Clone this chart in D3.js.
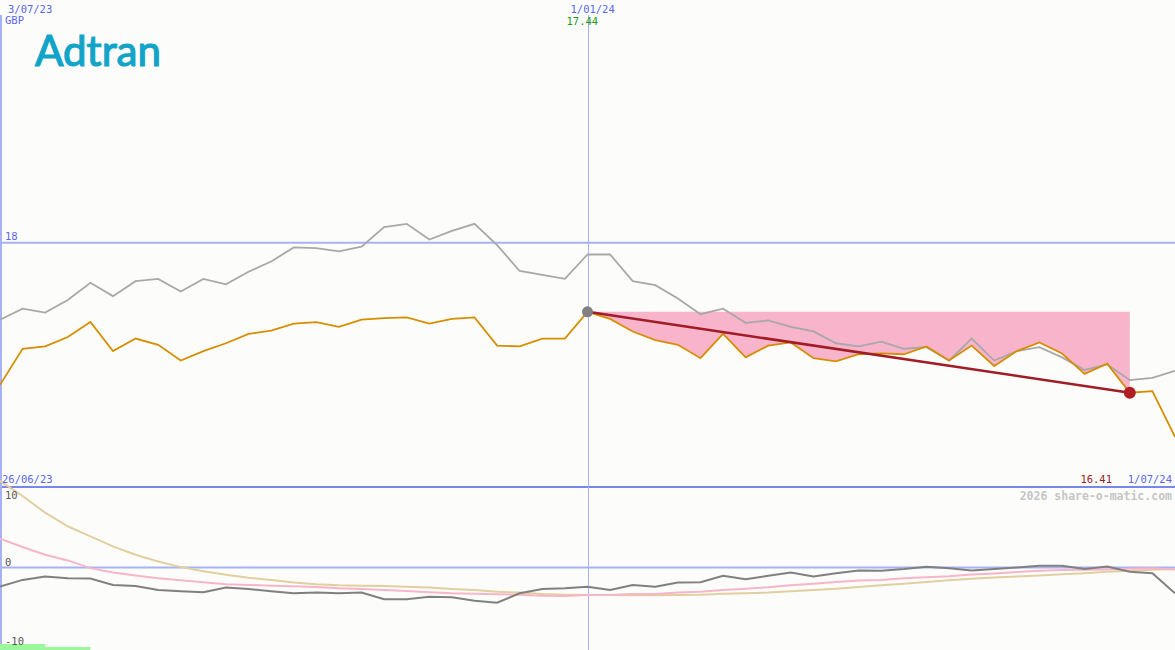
<!DOCTYPE html>
<html lang="en">
<head>
  <meta charset="UTF-8">
  <title>Adtran</title>
  <script src="https://cdn.jsdelivr.net/npm/d3@7"></script>
  <style>
    body { margin: 0; background: #fcfdfa; }
    svg { display: block; background: #fcfdfa; }
    .mono { font-family: "DejaVu Sans Mono", monospace; font-size: 10.5px; }
  </style>
</head>
<body>
  <svg width="1175" height="650"></svg>
  <script>
    // weekly closes in GBP, first week 3/07/23, last week 1/07/24
    var firstWeek = new Date(2023, 6, 3);
    var lastWeek = new Date(2024, 6, 1);

    var priceGBP = [16.51, 16.97, 17.00, 17.12, 17.31, 16.94, 17.10, 17.02, 16.82, 16.94,
      17.04, 17.16, 17.20, 17.29, 17.31, 17.25, 17.34, 17.36, 17.37, 17.29,
      17.35, 17.37, 17.01, 17.00, 17.10, 17.10, 17.44, 17.35, 17.19, 17.08,
      17.02, 16.85, 17.16, 16.86, 17.01, 17.05, 16.85, 16.81, 16.90, 16.91,
      16.90, 17.00, 16.82, 17.01, 16.75, 16.94, 17.05, 16.91, 16.65, 16.78,
      16.41, 16.43, 15.85];

    var compareGBP = [17.34, 17.48, 17.43, 17.59, 17.81, 17.64, 17.83, 17.86, 17.70, 17.86,
      17.79, 17.95, 18.08, 18.26, 18.25, 18.21, 18.27, 18.52, 18.56, 18.36,
      18.47, 18.56, 18.29, 17.96, 17.91, 17.86, 18.17, 18.17, 17.83, 17.78,
      17.61, 17.41, 17.48, 17.30, 17.33, 17.25, 17.19, 17.04, 17.00, 17.06,
      16.97, 16.99, 16.82, 17.10, 16.82, 16.94, 16.99, 16.86, 16.70, 16.77,
      16.57, 16.60, 16.69];

    // lower panel
    var oscSlow = [10.89, 8.99, 6.89, 5.19, 3.92, 2.66, 1.61, 0.76, 0.05, -0.46,
      -0.92, -1.30, -1.56, -1.90, -2.10, -2.23, -2.28, -2.32, -2.41, -2.53,
      -2.70, -2.82, -3.04, -3.16, -3.33, -3.42, -3.46, -3.46, -3.49, -3.49,
      -3.46, -3.42, -3.29, -3.24, -3.16, -2.99, -2.82, -2.66, -2.44, -2.23,
      -2.03, -1.81, -1.59, -1.43, -1.27, -1.14, -1.01, -0.84, -0.71, -0.54,
      -0.42, -0.29, -0.20];

    var oscMid = [3.63, 2.58, 1.61, 0.89, -0.08, -0.63, -1.01, -1.34, -1.59, -1.85,
      -2.10, -2.19, -2.28, -2.35, -2.44, -2.61, -2.70, -2.82, -2.95, -3.11,
      -3.24, -3.29, -3.37, -3.42, -3.54, -3.58, -3.46, -3.46, -3.33, -3.33,
      -3.16, -3.04, -2.82, -2.66, -2.48, -2.23, -2.03, -1.81, -1.65, -1.56,
      -1.34, -1.22, -1.09, -0.89, -0.76, -0.58, -0.42, -0.33, -0.29, -0.25,
      -0.16, -0.08, -0.25];

    var oscFast = [-2.41, -1.56, -1.14, -1.34, -1.39, -2.19, -2.32, -2.82, -2.99, -3.11,
      -2.53, -2.70, -2.99, -3.24, -3.16, -3.24, -3.16, -4.00, -4.00, -3.67,
      -3.75, -4.18, -4.43, -3.24, -2.70, -2.61, -2.41, -2.82, -2.19, -2.41,
      -1.90, -1.85, -1.05, -1.47, -1.05, -0.63, -1.14, -0.71, -0.38, -0.42,
      -0.20, 0.09, -0.08, -0.38, -0.20, 0.00, 0.22, 0.22, -0.20, 0.13,
      -0.54, -0.71, -3.24];

    var priceGrid = [18.32];
    var oscTicks = [10, 0, -10];
    var markStart = 26;   // week of 1/01/24
    var markEnd = 50;
    var signalWeeks = [2, 4];

    var svg = d3.select('svg');
    var width = +svg.attr('width');
    var height = +svg.attr('height');
    var split = 487;
    var axisBlue = '#a6b2f4';
    var labelBlue = '#5867ee';
    var fmtDate = d3.timeFormat('%-d/%m/%y');
    var fmtPrice = d3.format('.2f');

    var weeks = priceGBP.map(function(d, i) { return d3.timeDay.offset(firstWeek, 7 * i); });
    function series(vals) {
      return vals.map(function(v, i) { return {date: weeks[i], value: v}; });
    }

    var x = d3.scaleTime().domain([firstWeek, lastWeek]).range([0, width]);
    var y = d3.scaleLinear().domain([15.21, 21.41]).range([split, 0]);
    var y2 = d3.scaleLinear().domain([-10, 10]).range([647, 488]);

    var line = d3.line().x(function(d) { return x(d.date); }).y(function(d) { return y(d.value); });
    var line2 = d3.line().x(function(d) { return x(d.date); }).y(function(d) { return y2(d.value); });

    // grid
    svg.selectAll('.pgrid').data(priceGrid).enter().append('line')
      .attr('x1', 0).attr('x2', width)
      .attr('y1', function(d) { return y(d); }).attr('y2', function(d) { return y(d); })
      .attr('stroke', axisBlue).attr('stroke-width', 2);
    svg.append('line')
      .attr('x1', 0).attr('x2', width).attr('y1', y2(0)).attr('y2', y2(0))
      .attr('stroke', axisBlue).attr('stroke-width', 2);
    svg.append('line')
      .attr('x1', 0).attr('x2', width).attr('y1', split).attr('y2', split)
      .attr('stroke', '#7787ec').attr('stroke-width', 2);
    svg.append('line')
      .attr('x1', 1).attr('x2', 1).attr('y1', 15).attr('y2', height)
      .attr('stroke', axisBlue).attr('stroke-width', 2);
    svg.append('line')
      .attr('x1', Math.round(x(weeks[markStart])) + 0.5).attr('x2', Math.round(x(weeks[markStart])) + 0.5)
      .attr('y1', 15).attr('y2', height)
      .attr('stroke', axisBlue).attr('stroke-width', 1);

    // shortfall against the 1/01/24 close
    var base = priceGBP[markStart];
    svg.append('path')
      .datum(series(priceGBP).slice(markStart, markEnd + 1))
      .attr('fill', '#f8b4ca')
      .attr('d', d3.area()
        .x(function(d) { return x(d.date); })
        .y0(y(base))
        .y1(function(d) { return y(d.value); }));

    svg.append('path').datum(series(compareGBP))
      .attr('fill', 'none').attr('stroke', '#a8a8a8').attr('stroke-width', 1.8)
      .attr('d', line);
    svg.append('path').datum(series(priceGBP))
      .attr('fill', 'none').attr('stroke', '#d68e00').attr('stroke-width', 1.8)
      .attr('d', line);

    svg.append('line')
      .attr('x1', x(weeks[markStart])).attr('y1', y(priceGBP[markStart]))
      .attr('x2', x(weeks[markEnd])).attr('y2', y(priceGBP[markEnd]))
      .attr('stroke', '#a01c26').attr('stroke-width', 2.5);
    svg.append('circle')
      .attr('cx', x(weeks[markStart])).attr('cy', y(priceGBP[markStart])).attr('r', 5.5)
      .attr('fill', '#808080');
    svg.append('circle')
      .attr('cx', x(weeks[markEnd])).attr('cy', y(priceGBP[markEnd])).attr('r', 6)
      .attr('fill', '#b01e22');

    // lower panel
    svg.append('path').datum(series(oscSlow))
      .attr('fill', 'none').attr('stroke', '#e2cf9f').attr('stroke-width', 2)
      .attr('d', line2);
    svg.append('path').datum(series(oscMid))
      .attr('fill', 'none').attr('stroke', '#f8b4c8').attr('stroke-width', 2)
      .attr('d', line2);
    svg.append('path').datum(series(oscFast))
      .attr('fill', 'none').attr('stroke', '#808080').attr('stroke-width', 2)
      .attr('d', line2);

    svg.selectAll('.signal').data(signalWeeks).enter().append('rect')
      .attr('x', 0)
      .attr('y', function(d, i) { return i === 0 ? 644 : 647; })
      .attr('width', function(d) { return x(weeks[d]) - x(weeks[0]); })
      .attr('height', function(d, i) { return i === 0 ? 6 : 3; })
      .attr('fill', '#9af89a');

    // labels
    function label(txt, px, py, color, anchor) {
      return svg.append('text').attr('class', 'mono')
        .attr('x', px).attr('y', py)
        .attr('fill', color).attr('text-anchor', anchor || 'start')
        .text(txt);
    }
    label(fmtDate(firstWeek), 8, 13, labelBlue);
    label('GBP', 5, 24, labelBlue);
    label(fmtDate(weeks[markStart]), x(weeks[markStart]) - 17, 13, labelBlue);
    label(fmtPrice(priceGBP[markStart]), x(weeks[markStart]) - 21, 25, '#1d9a1d');
    priceGrid.forEach(function(v) { label(d3.format('.0f')(v), 5, y(v) - 3, labelBlue); });
    label(fmtDate(d3.timeDay.offset(firstWeek, -7)), 2, 483, labelBlue);
    label(fmtPrice(priceGBP[markEnd]), 1112, 483, '#9b1b1b', 'end');
    label(fmtDate(lastWeek), 1172, 483, labelBlue, 'end');
    oscTicks.forEach(function(v) {
      label(String(v), 5, Math.max(y2(v) - 2, 499), '#555');
    });

    svg.append('text')
      .attr('x', 1172).attr('y', 500).attr('text-anchor', 'end')
      .attr('font-family', '"DejaVu Sans Mono", monospace').attr('font-size', 11.5)
      .attr('font-weight', 'bold').attr('fill', '#c6c6c6')
      .text('2026 share-o-matic.com');

    svg.append('text')
      .attr('x', 35).attr('y', 66)
      .attr('font-family', 'Lato, sans-serif').attr('font-size', 42)
      .attr('textLength', 126).attr('lengthAdjust', 'spacingAndGlyphs')
      .attr('fill', '#12a4c8').attr('stroke', '#12a4c8').attr('stroke-width', 1.2)
      .text('Adtran');
  </script>
</body>
</html>
